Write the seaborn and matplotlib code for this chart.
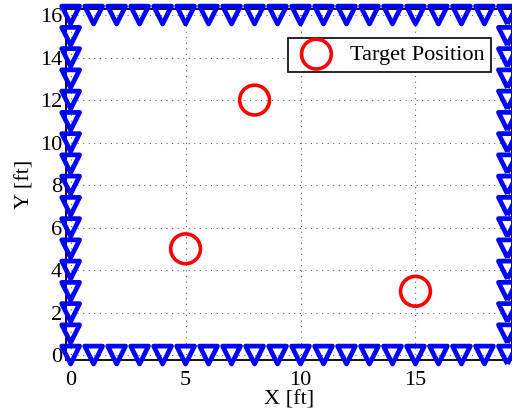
import pandas as pd
import seaborn as sns
import matplotlib.pyplot as plt

# Anchor positions around the room edge (downward triangles)
anchor_x = [0, 1, 2, 3, 4, 5, 6, 7, 8, 9, 10, 11, 12, 13, 14, 15, 16, 17, 18, 19,
            0, 1, 2, 3, 4, 5, 6, 7, 8, 9, 10, 11, 12, 13, 14, 15, 16, 17, 18, 19,
            0, 0, 0, 0, 0, 0, 0, 0, 0, 0, 0, 0, 0, 0, 0,
            19, 19, 19, 19, 19, 19, 19, 19, 19, 19, 19, 19, 19, 19, 19]
anchor_y = [0, 0, 0, 0, 0, 0, 0, 0, 0, 0, 0, 0, 0, 0, 0, 0, 0, 0, 0, 0,
            16, 16, 16, 16, 16, 16, 16, 16, 16, 16, 16, 16, 16, 16, 16, 16, 16, 16, 16, 16,
            1, 2, 3, 4, 5, 6, 7, 8, 9, 10, 11, 12, 13, 14, 15,
            1, 2, 3, 4, 5, 6, 7, 8, 9, 10, 11, 12, 13, 14, 15]

# Target positions
target_x = [5, 8, 15]
target_y = [5, 12, 3]

anchors = pd.DataFrame({'x': anchor_x, 'y': anchor_y})
targets = pd.DataFrame({'x': target_x, 'y': target_y})

sns.set_style('white')
plt.rcParams['font.family'] = ['Liberation Serif', 'DejaVu Serif']
plt.rcParams['text.color'] = 'black'
plt.rcParams['axes.labelcolor'] = 'black'
plt.rcParams['xtick.color'] = 'black'
plt.rcParams['ytick.color'] = 'black'

fig = plt.figure(figsize=(5.12, 4.13), dpi=100)
ax = fig.add_axes([0.129, 0.128, 0.871, 0.851])

sns.scatterplot(data=targets, x='x', y='y', ax=ax, marker='o', s=460,
                facecolors='none', edgecolor='red', linewidth=2.6,
                label='Target Position', zorder=3, clip_on=False)
sns.scatterplot(data=anchors, x='x', y='y', ax=ax, marker='v', s=165,
                facecolors='none', edgecolor='blue', linewidth=3.4,
                zorder=4, clip_on=False, legend=False)

ax.set_xlim(-0.2, 19.2)
ax.set_ylim(-0.24, 16.3)
ax.set_xticks([0, 5, 10, 15])
ax.set_yticks([0, 2, 4, 6, 8, 10, 12, 14, 16])
ax.grid(True, linestyle=(0, (1, 4)), color='#666666', linewidth=0.8)
ax.tick_params(direction='in', labelsize=16, length=4)
ax.tick_params(axis='x', pad=8)
ax.tick_params(axis='y', pad=3)
for s in ax.spines.values():
    s.set_color('black')
    s.set_linewidth(1.3)
ax.set_xlabel('X [ft]', fontsize=16, labelpad=0)
ax.set_ylabel('Y [ft]', fontsize=16, labelpad=4)

leg = ax.legend(loc='upper right', bbox_to_anchor=(0.963, 0.93), fontsize=16,
                frameon=True, fancybox=False, edgecolor='black',
                handletextpad=0.5, borderpad=0.3, borderaxespad=0.2)
leg.get_frame().set_linewidth(1.2)
leg.get_frame().set_alpha(1)

fig.savefig('out.png', dpi=100)
